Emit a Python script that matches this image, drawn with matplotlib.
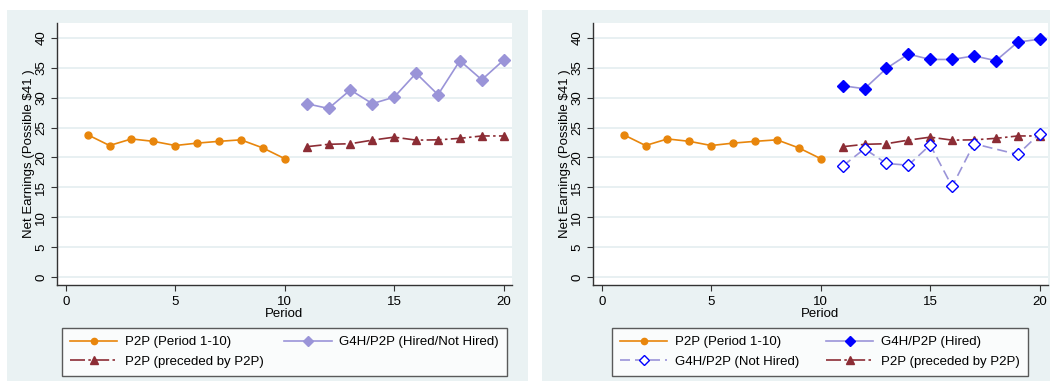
import matplotlib
matplotlib.use("Agg")
import matplotlib.pyplot as plt
from matplotlib.patches import Rectangle
import numpy as np

plt.rcParams['font.family'] = ['Liberation Sans', 'DejaVu Sans']

# ---- data ----
periods_a = [1, 2, 3, 4, 5, 6, 7, 8, 9, 10]
p2p_first = [23.8, 22.0, 23.1, 22.7, 22.0, 22.4, 22.7, 22.95, 21.6, 19.8]

periods_b = [11, 12, 13, 14, 15, 16, 17, 18, 19, 20]
g4h_all = [29.0, 28.2, 31.3, 29.0, 30.1, 34.1, 30.5, 36.2, 33.0, 36.3]
p2p_preceded = [21.8, 22.2, 22.3, 22.9, 23.4, 22.9, 22.95, 23.2, 23.6, 23.6]

g4h_hired = [32.0, 31.5, 34.9, 37.3, 36.4, 36.4, 37.0, 36.2, 39.3, 39.8]
periods_nh = [11, 12, 13, 14, 15, 16, 17, 19, 20]
g4h_not_hired = [18.55, 21.45, 19.0, 18.7, 22.1, 15.15, 22.3, 20.5, 24.0]

xticks = [0, 5, 10, 15, 20]
yticks = [0, 5, 10, 15, 20, 25, 30, 35, 40]

# ---- style ----
ORANGE = '#E8860C'
LAV = '#9A94D8'
MAROON = '#8C2D35'
BLUE = '#0000FF'
BG = '#EAF2F3'
GRID = '#E4EEF0'

W, H = 1050, 381
fig = plt.figure(figsize=(W / 100, H / 100), dpi=100, facecolor='white')


def fx(px):
    return px / W


def fy(py):
    return 1 - py / H


# panel backgrounds
for (x0, x1) in [(7, 528), (542, 1050)]:
    fig.patches.append(Rectangle((fx(x0), fy(381)), fx(x1 - x0), (381 - 10) / H,
                                 transform=fig.transFigure, facecolor=BG,
                                 edgecolor='none', zorder=-10))


def make_axes(left_px, right_px):
    ax = fig.add_axes([fx(left_px), fy(285), fx(right_px - left_px), (285 - 23) / H])
    ax.set_zorder(1)
    ax.set_facecolor('white')
    ax.set_xlim(-0.4, 20.38)
    ax.set_ylim(-1.34, 42.5)
    ax.set_xticks(xticks)
    ax.set_yticks(yticks)
    ax.set_yticklabels([str(t) for t in yticks], rotation=90, va='center')
    ax.tick_params(axis='both', direction='out', length=4.5, width=0.8,
                   labelsize=9.5, colors='#333333', labelcolor='black')
    ax.tick_params(axis='y', pad=2.5)
    ax.tick_params(axis='x', pad=3.5)
    for s in ['top', 'right']:
        ax.spines[s].set_visible(False)
    for s in ['left', 'bottom']:
        ax.spines[s].set_color('#333333')
        ax.spines[s].set_linewidth(1.0)
    ax.grid(axis='y', color=GRID, linewidth=1.2)
    ax.set_axisbelow(True)
    ax.set_xlabel('Period', fontsize=9.5, labelpad=0)
    ax.set_ylabel('Net Earnings (Possible $41 )', fontsize=9.5, labelpad=0.5)
    return ax


def make_legend(ax, handles, x0, x1):
    leg = ax.legend(handles=handles, ncol=2, loc='upper left',
                    bbox_to_anchor=(fx(x0), fy(328) - 0.001, fx(x1 - x0), 0.001),
                    bbox_transform=fig.transFigure, mode='expand', fontsize=9.5,
                    frameon=True, fancybox=False, edgecolor='#333333',
                    handlelength=3.6, borderpad=0.6, labelspacing=0.55,
                    columnspacing=1.0, handletextpad=0.6, borderaxespad=0,
                    markerscale=0.9)
    leg.get_frame().set_linewidth(1.0)
    return leg


# ---- left panel ----
ax1 = make_axes(57, 512)
h1, = ax1.plot(periods_a, p2p_first, color=ORANGE, lw=1.2, marker='o', ms=5,
               label='P2P (Period 1-10)')
h2, = ax1.plot(periods_b, g4h_all, color=LAV, lw=1.2, marker='D', ms=6,
               label='G4H/P2P (Hired/Not Hired)')
h3, = ax1.plot(periods_b, p2p_preceded, color=MAROON, lw=1.2, marker='^', ms=6,
               dashes=(9, 2, 1.5, 2), label='P2P (preceded by P2P)')
make_legend(ax1, [h1, h3, h2], 62, 507)

# ---- right panel ----
ax2 = make_axes(593, 1048)
r1, = ax2.plot(periods_a, p2p_first, color=ORANGE, lw=1.2, marker='o', ms=5,
               label='P2P (Period 1-10)')
r2, = ax2.plot(periods_b, g4h_hired, color=LAV, lw=1.2, marker='D', ms=6,
               mfc=BLUE, mec=BLUE, label='G4H/P2P (Hired)')
r4, = ax2.plot(periods_b, p2p_preceded, color=MAROON, lw=1.2, marker='^', ms=6,
               dashes=(9, 2, 1.5, 2), label='P2P (preceded by P2P)')
r3, = ax2.plot(periods_nh, g4h_not_hired, color=LAV, lw=1.2, marker='D', ms=6,
               mfc='white', mec=BLUE, mew=1.0, dashes=(6, 3),
               label='G4H/P2P (Not Hired)')
make_legend(ax2, [r1, r3, r2, r4], 612, 1028)

fig.savefig('out.png', dpi=100, facecolor='white')
